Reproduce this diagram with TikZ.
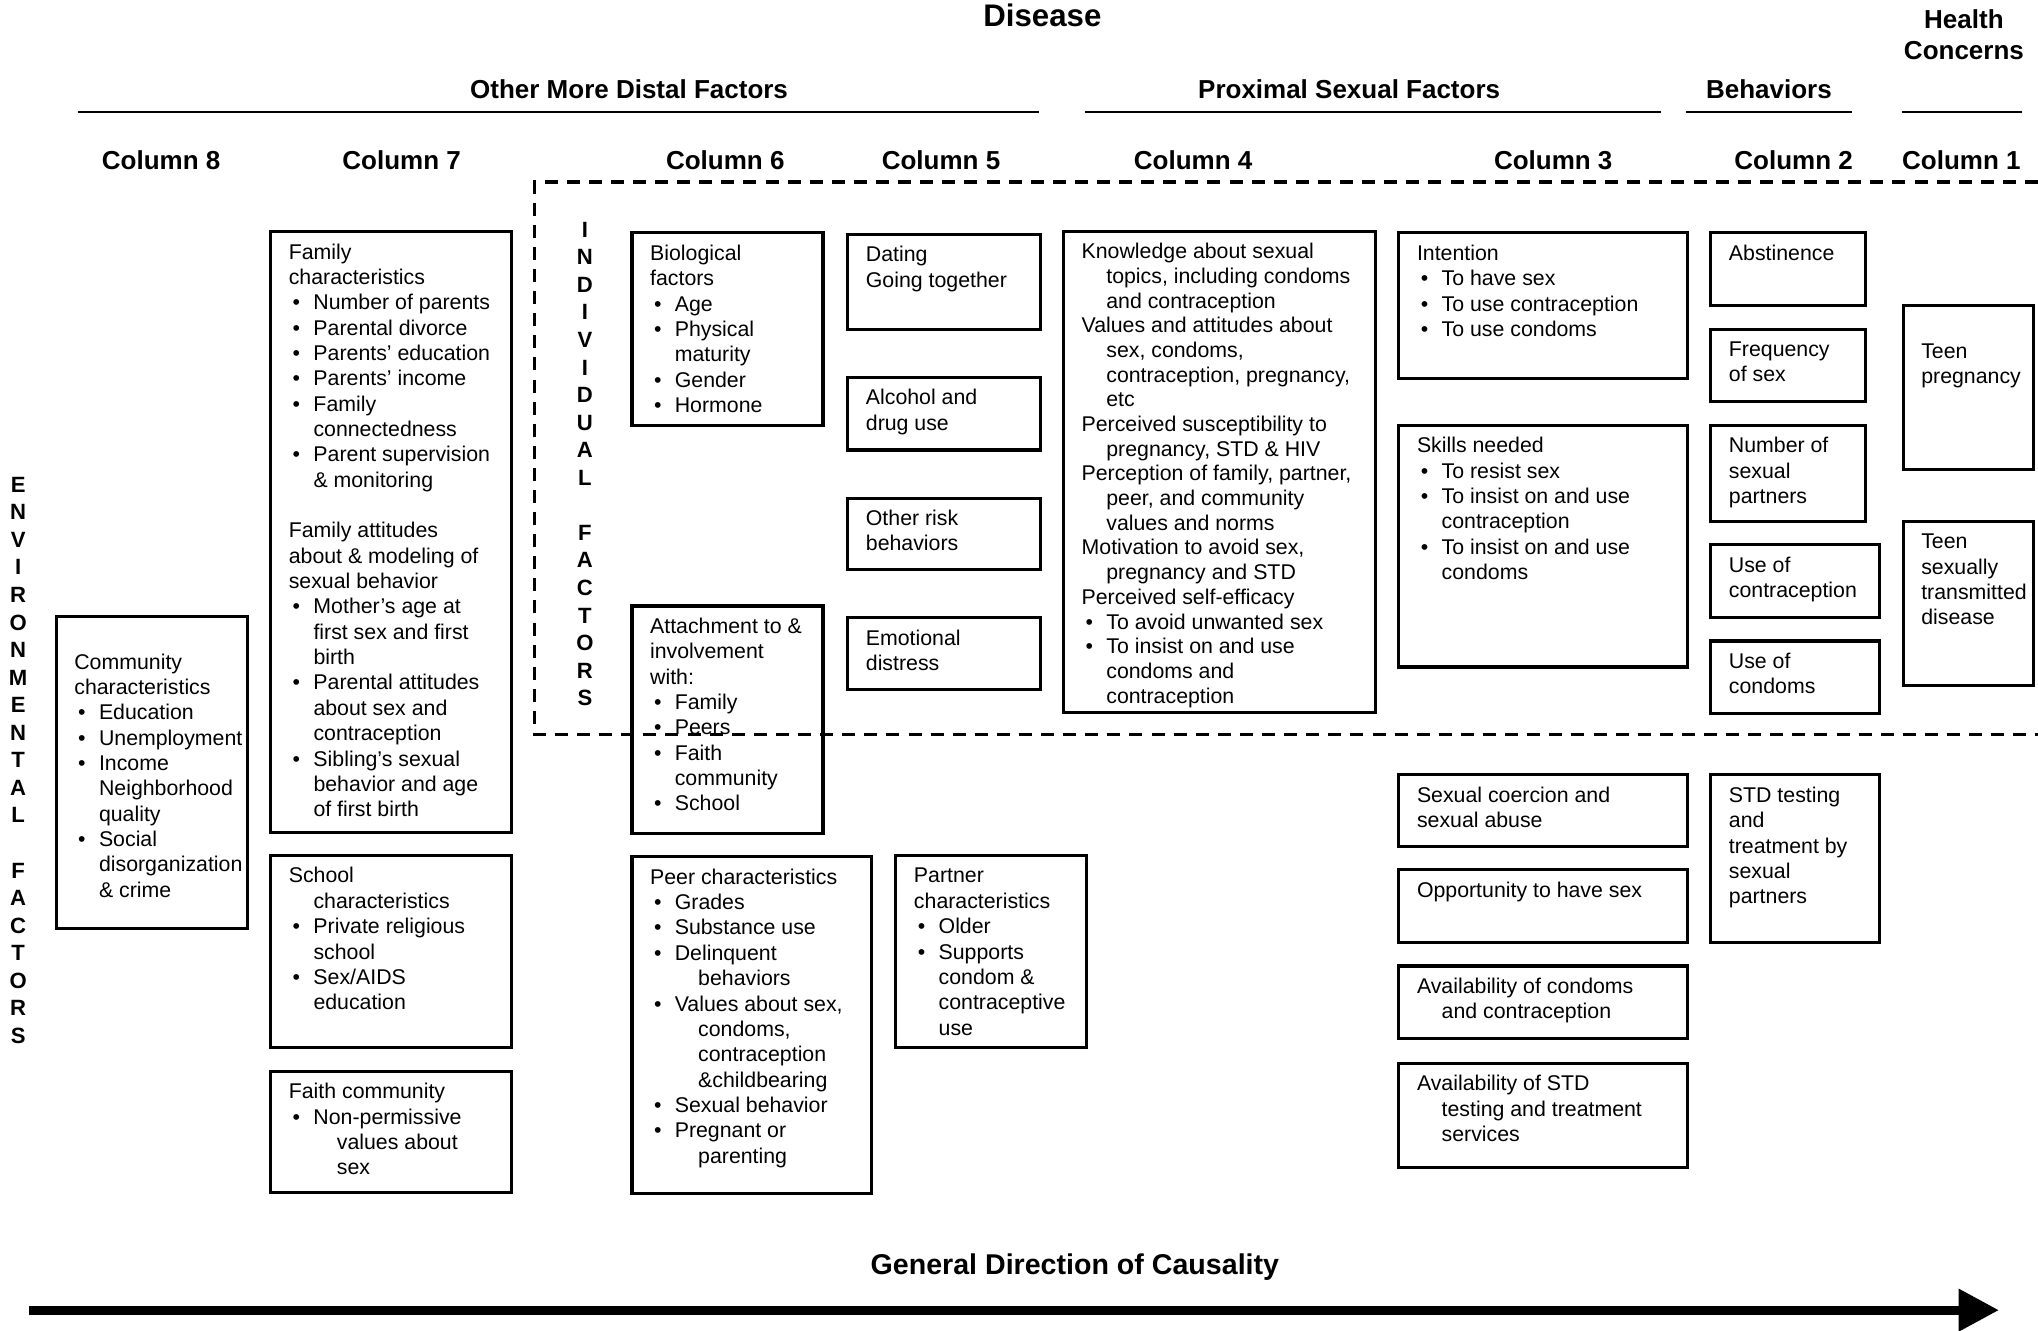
\documentclass[tikz,border=0pt]{standalone}
\usepackage{fontspec}
\setmainfont{Liberation Sans}
\usetikzlibrary{arrows.meta}

% text lines inside the factor boxes
\newcommand{\boxfont}{\fontsize{16.4}{19.5}\selectfont}
\newcommand{\fstrut}{\rule[-.3\baselineskip]{0pt}{\baselineskip}}
\newcommand{\fline}[1]{\par\noindent\fstrut\mbox{#1}}
\newcommand{\fbul}[1]{\par\noindent\fstrut\makebox[19pt][l]{\hspace{3pt}\textbullet}\mbox{#1}}
\newcommand{\fcont}[1]{\par\noindent\fstrut\hspace*{19pt}\mbox{#1}}
\newcommand{\fdeep}[1]{\par\noindent\fstrut\hspace*{37pt}\mbox{#1}}
\newcommand{\fgap}{\par\noindent\fstrut}
\newcommand{\fbody}[3]{\parbox[c][\dimexpr#2pt-15pt\relax][t]{\dimexpr#1pt-28pt\relax}{\boxfont\parskip=0pt\relax #3}}

\begin{document}
\begin{tikzpicture}[x=1pt,y=-1pt]
        \tikzstyle{factor}=[draw,line width=2.4pt,anchor=north west,inner xsep=14pt,inner ysep=7.5pt]
        \tikzstyle{colhead}=[font=\fontsize{20}{24}\selectfont\bfseries]
        \tikzstyle{sideword}=[align=center,font=\fontsize{17}{21.2}\selectfont\bfseries]
        \tikzstyle{rail}=[line width=1.6pt]
        \tikzstyle{region}=[line width=2.4pt,dash pattern=on 10pt off 7pt]
        \tikzstyle{causal}=[line width=7pt,-{Triangle[length=31pt,width=31pt]}]
        \useasboundingbox (0,0) rectangle (1568,1024);

       % headings
       \begin{scope}
         \node [colhead,font=\fontsize{24}{28}\selectfont\bfseries] (disease) at (802,12) {Disease};
         \node [colhead,align=center] (health) at (1511,27) {Health\\Concerns};
         \node [colhead] (distal) at (484,69) {Other More Distal Factors};
         \node [colhead] (proximal) at (1038,69) {Proximal Sexual Factors};
         \node [colhead] (behav) at (1361,69) {Behaviors};
         \draw [rail] (60,86) -- (799,86);
         \draw [rail] (835,86) -- (1278,86);
         \draw [rail] (1297,86) -- (1425,86);
         \draw [rail] (1463,86) -- (1556,86);
         \node [colhead] (col8) at (124,123) {Column 8};
         \node [colhead] (col7) at (309,123) {Column 7};
         \node [colhead] (col6) at (558,123) {Column 6};
         \node [colhead] (col5) at (724,123) {Column 5};
         \node [colhead] (col4) at (918,123) {Column 4};
         \node [colhead] (col3) at (1195,123) {Column 3};
         \node [colhead] (col2) at (1380,123) {Column 2};
         \node [colhead] (col1) at (1509,123) {Column 1};
       \end{scope}

       % individual factors region
       \draw [region] (1568,140) -- (411,140) -- (411,565) -- (1568,565);
       \node [sideword] (envlabel) at (14,585) {E\\N\\V\\I\\R\\O\\N\\M\\E\\N\\T\\A\\L\\\mbox{}\\F\\A\\C\\T\\O\\R\\S};
       \node [sideword] (indlabel) at (450,357) {I\\N\\D\\I\\V\\I\\D\\U\\A\\L\\\mbox{}\\F\\A\\C\\T\\O\\R\\S};

       % column 8 and 7
       \begin{scope}
         \node [factor] (community) at (42,473) {\fbody{147}{240}{\fgap\fline{Community}\fline{characteristics}\fbul{Education}\fbul{Unemployment}\fbul{Income}\fcont{Neighborhood}\fcont{quality}\fbul{Social}\fcont{disorganization}\fcont{\& crime}}};
         \node [factor] (famchar) at (207,177) {\fbody{185}{462}{\fline{Family}\fline{characteristics}\fbul{Number of parents}\fbul{Parental divorce}\fbul{Parents’ education}\fbul{Parents’ income}\fbul{Family}\fcont{connectedness}\fbul{Parent supervision}\fcont{\& monitoring}\fgap\fline{Family attitudes}\fline{about \& modeling of}\fline{sexual behavior}\fbul{Mother’s age at}\fcont{first sex and first}\fcont{birth}\fbul{Parental attitudes}\fcont{about sex and}\fcont{contraception}\fbul{Sibling’s sexual}\fcont{behavior and age}\fcont{of first birth}}};
         \node [factor] (school) at (207,657) {\fbody{185}{148}{\fline{School}\fcont{characteristics}\fbul{Private religious}\fcont{school}\fbul{Sex/AIDS}\fcont{education}}};
         \node [factor] (faith) at (207,823) {\fbody{185}{93}{\fline{Faith community}\fbul{Non-permissive}\fdeep{values about}\fdeep{sex}}};
       \end{scope}

       % column 6 and 5
       \begin{scope}
         \node [factor] (bio) at (485,178) {\fbody{147}{148}{\fline{Biological}\fline{factors}\fbul{Age}\fbul{Physical}\fcont{maturity}\fbul{Gender}\fbul{Hormone}}};
         \node [factor] (attach) at (485,465) {\fbody{147}{175}{\fline{Attachment to \&}\fline{involvement}\fline{with:}\fbul{Family}\fbul{Peers}\fbul{Faith}\fcont{community}\fbul{School}}};
         \node [factor] (peer) at (485,658) {\fbody{184}{259}{\fline{Peer characteristics}\fbul{Grades}\fbul{Substance use}\fbul{Delinquent}\fdeep{behaviors}\fbul{Values about sex,}\fdeep{condoms,}\fdeep{contraception}\fdeep{\&childbearing}\fbul{Sexual behavior}\fbul{Pregnant or}\fdeep{parenting}}};
         \node [factor] (dating) at (651,179) {\fbody{148}{73}{\fline{Dating}\fline{Going together}}};
         \node [factor] (alcohol) at (651,289) {\fbody{148}{56}{\fline{Alcohol and}\fline{drug use}}};
         \node [factor] (otherrisk) at (651,382) {\fbody{148}{55}{\fline{Other risk}\fline{behaviors}}};
         \node [factor] (emotion) at (651,474) {\fbody{148}{55}{\fline{Emotional}\fline{distress}}};
         \node [factor] (partner) at (688,657) {\fbody{147}{148}{\fline{Partner}\fline{characteristics}\fbul{Older}\fbul{Supports}\fcont{condom \&}\fcont{contraceptive}\fcont{use}}};
       \end{scope}

       % column 4 and 3
       \begin{scope}
         \node [factor] (know) at (817,177) {\fbody{240}{370}{\fontsize{16.4}{19}\selectfont\fline{Knowledge about sexual}\fcont{topics, including condoms}\fcont{and contraception}\fline{Values and attitudes about}\fcont{sex, condoms,}\fcont{contraception, pregnancy,}\fcont{etc}\fline{Perceived susceptibility to}\fcont{pregnancy, STD \& HIV}\fline{Perception of family, partner,}\fcont{peer, and community}\fcont{values and norms}\fline{Motivation to avoid sex,}\fcont{pregnancy and STD}\fline{Perceived self-efficacy}\fbul{To avoid unwanted sex}\fbul{To insist on and use}\fcont{condoms and}\fcont{contraception}}};
         \node [factor] (intent) at (1075,178) {\fbody{222}{112}{\fline{Intention}\fbul{To have sex}\fbul{To use contraception}\fbul{To use condoms}}};
         \node [factor] (skills) at (1075,326) {\fbody{222}{186}{\fline{Skills needed}\fbul{To resist sex}\fbul{To insist on and use}\fcont{contraception}\fbul{To insist on and use}\fcont{condoms}}};
         \node [factor] (coercion) at (1075,595) {\fbody{222}{55}{\fline{Sexual coercion and}\fline{sexual abuse}}};
         \node [factor] (opport) at (1075,668) {\fbody{222}{56}{\fline{Opportunity to have sex}}};
         \node [factor] (availcond) at (1075,742) {\fbody{222}{56}{\fline{Availability of condoms}\fcont{and contraception}}};
         \node [factor] (availstd) at (1075,817) {\fbody{222}{80}{\fline{Availability of STD}\fcont{testing and treatment}\fcont{services}}};
       \end{scope}

       % column 2 and 1
       \begin{scope}
         \node [factor] (abstain) at (1315,178) {\fbody{119}{56}{\fline{Abstinence}}};
         \node [factor] (freq) at (1315,252) {\fbody{119}{56}{\fline{Frequency}\fline{of sex}}};
         \node [factor] (numpart) at (1315,326) {\fbody{119}{74}{\fline{Number of}\fline{sexual}\fline{partners}}};
         \node [factor] (usecontra) at (1315,418) {\fbody{130}{56}{\fline{Use of}\fline{contraception}}};
         \node [factor] (usecond) at (1315,492) {\fbody{130}{56}{\fline{Use of}\fline{condoms}}};
         \node [factor] (stdtest) at (1315,595) {\fbody{130}{129}{\fline{STD testing}\fline{and}\fline{treatment by}\fline{sexual}\fline{partners}}};
         \node [factor] (pregnancy) at (1463,234) {\fbody{100}{126}{\fgap\fline{Teen}\fline{pregnancy}}};
         \node [factor] (std) at (1463,400) {\fbody{100}{126}{\fline{Teen}\fline{sexually}\fline{transmitted}\fline{disease}}};
       \end{scope}

       % direction of causality
       \node [colhead,font=\fontsize{22}{26}\selectfont\bfseries] (causetitle) at (827,975) {General Direction of Causality};
       \coordinate (causestart) at (22,1008);
       \coordinate (causeend) at (1538,1008);
       \draw [causal] (causestart) -- (causeend);
      \end{tikzpicture}
\end{document}
